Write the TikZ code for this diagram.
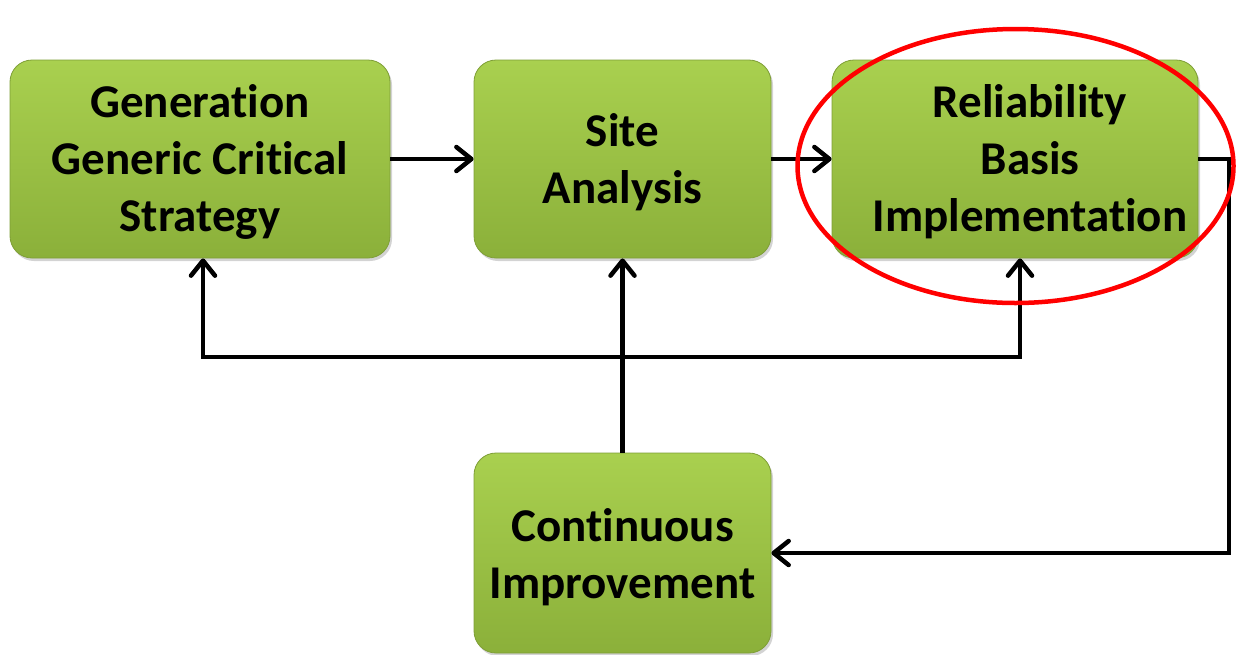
\documentclass[tikz,border=0pt]{standalone}
\usepackage{fontspec}
\setmainfont[RawFeature=-liga]{Carlito}
\usetikzlibrary{arrows.meta,shadows}
\definecolor{boxtop}{HTML}{A9D04F}
\definecolor{boxbot}{HTML}{8BB03A}
\definecolor{boxedge}{HTML}{7E9E36}
\begin{document}
\begin{tikzpicture}[x=1pt,y=-1pt,
 box/.style={rounded corners=22pt, top color=boxtop, bottom color=boxbot, draw=boxedge, line width=0.8pt,
   inner sep=0pt, drop shadow={shadow xshift=2pt,shadow yshift=-3pt,opacity=0.35}},
 lbl/.style={align=center, font=\fontsize{47}{57}\selectfont\bfseries, inner sep=0pt},
 conn/.style={line width=4.5pt, -{Straight Barb[length=15pt,width=24pt,line width=4.5pt,round]}},
 plain/.style={line width=4.5pt}]
\path[use as bounding box] (0,0) rectangle (1238,654);
\node[box, minimum width=380pt, minimum height=198pt] (gen) at (200,159) {};
\node[box, minimum width=297pt, minimum height=198pt] (site) at (622.5,159) {};
\node[box, minimum width=366pt, minimum height=198pt] (rel) at (1015,159) {};
\node[box, minimum width=297pt, minimum height=200pt] (ci) at (622.5,553) {};
\node[lbl] (gent) at (200,162) {Generation\\Generic Critical\\Strategy};
\node[lbl] (sitet) at (622.5,162) {Site\\Analysis};
\node[lbl] (relt) at (1030,162) {Reliability\\Basis\\Implementation};
\node[lbl] (cit) at (622.5,557) {Continuous\\Improvement};
\draw[conn] (gen) -- (site);
\draw[conn] (site) -- (rel);
\coordinate (rtop) at (1229,159);
\draw[conn] (rel.east) -- (rtop) |- (ci.east);
\coordinate (fbL) at (203,357);
\coordinate (fbR) at (1020,357);
\draw[conn] (ci.north) -- (site.south);
\draw[plain, line cap=rect] (fbL) -- (fbR);
\draw[conn] (fbL) -- (gen.south -| fbL);
\draw[conn] (fbR) -- (rel.south -| fbR);
\draw[red, line width=4.5pt] (1015.5,166) ellipse [x radius=218pt, y radius=137pt];
\end{tikzpicture}
\end{document}
